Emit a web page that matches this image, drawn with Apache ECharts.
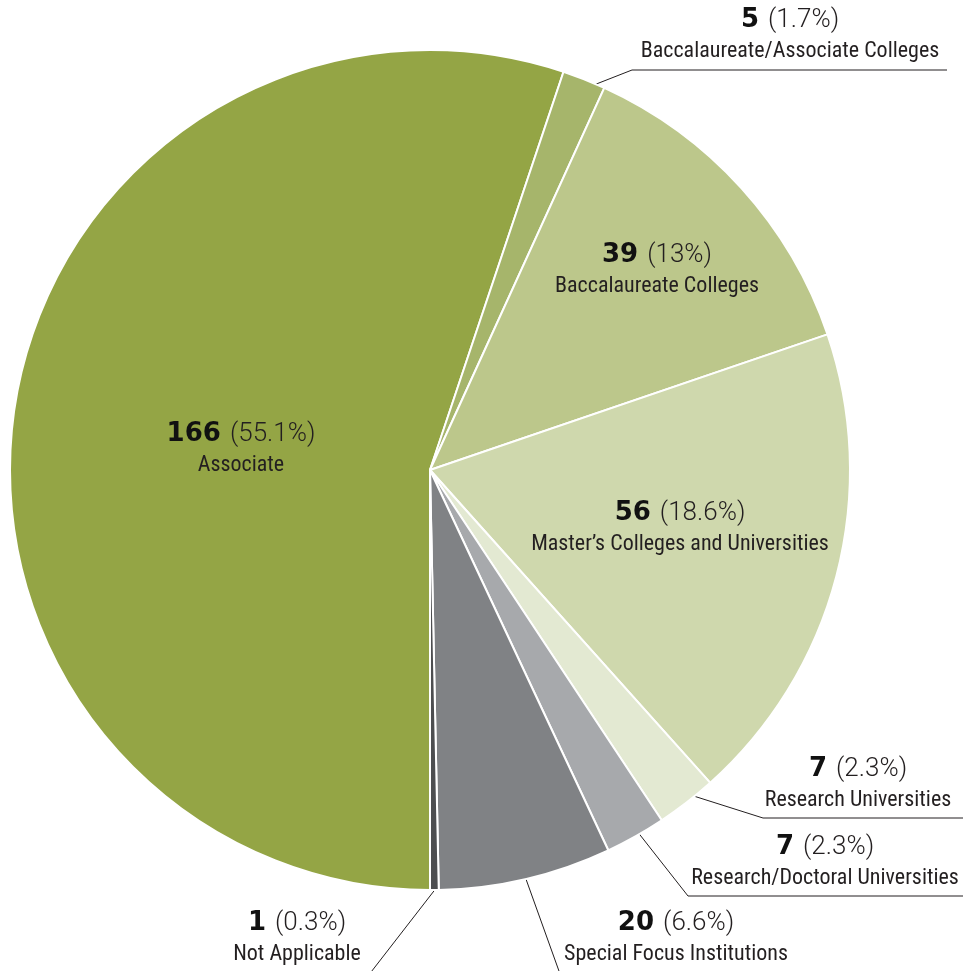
<!DOCTYPE html>
<html><head><meta charset="utf-8">
<script src="https://cdn.jsdelivr.net/npm/echarts@6/dist/echarts.min.js"></script>
<style>html,body{margin:0;padding:0;background:#fff}#c{width:963px;height:971px}</style>
</head><body><div id="c"></div>
<script>
const categories = ["Associate","Baccalaureate/Associate Colleges","Baccalaureate Colleges","Master\u2019s Colleges and Universities","Research Universities","Research/Doctoral Universities","Special Focus Institutions","Not Applicable"];
const counts = [166,5,39,56,7,7,20,1];
const colors = ["#94a545","#a6b56b","#bcc78b","#cfd8ad","#e3e9d2","#a7a9ac","#808285","#4d4e50"];
// label layout: [centerX, centerY] of text block, and optional leader points
const labelPos = [[241,450],[790,36],[657,271],[680,529],[858,785],[825,863],[676,939],[297,939]];
const leaders = [null,[[581,90],[632,70],[947,70]],null,null,[[681,792],[763,818],[970,818]],[[633,826],[688,896],[970,896]],[[522,868],[564,985]],[[437,887],[361,985]]];

const total = counts.reduce((a,b)=>a+b,0);
const FONT = '"Liberation Sans Narrow","Roboto Condensed","Arial Narrow",Roboto,sans-serif';
const data = categories.map((name,i)=>({
  name, value: counts[i],
  itemStyle:{color:colors[i]},
  label:{position: leaders[i] ? 'outside' : 'inside'},
  labelLine:{show: !!leaders[i]}
}));
const chart = echarts.init(document.getElementById('c'),null,{renderer:'canvas'});
chart.setOption({
  animation:false,
  series:[{
    type:'pie',
    center:[430,470],
    radius:[0,420],
    startAngle:270,
    clockwise:true,
    avoidLabelOverlap:false,
    data,
    itemStyle:{borderColor:'#fff',borderWidth:2},
    emphasis:{disabled:true},
    label:{
      show:true,
      fontFamily:FONT,
      color:'#231f20',
      align:'center',
      lineHeight:31,
      formatter:p=>{
        const pct = parseFloat((p.value/total*100).toFixed(1));
        return '{n|'+p.value+' }{p|('+pct+'%)}\n{t|'+p.name+'}';
      },
      rich:{
        n:{fontSize:26,fontWeight:'bold',fontFamily:'"DejaVu Sans",sans-serif',color:'#111',lineHeight:31},
        p:{fontSize:26,fontWeight:300,fontFamily:'Roboto,sans-serif',color:'#231f20',lineHeight:31},
        t:{fontSize:22,fontFamily:FONT,color:'#231f20',lineHeight:31}
      }
    },
    labelLine:{lineStyle:{color:'#231f20',width:1}},
    labelLayout:function(params){
      const i = params.dataIndex;
      const r = {x:labelPos[i][0], y:labelPos[i][1], align:'center', verticalAlign:'middle'};
      if(leaders[i]) r.labelLinePoints = leaders[i];
      return r;
    }
  }]
});
</script></body></html>
